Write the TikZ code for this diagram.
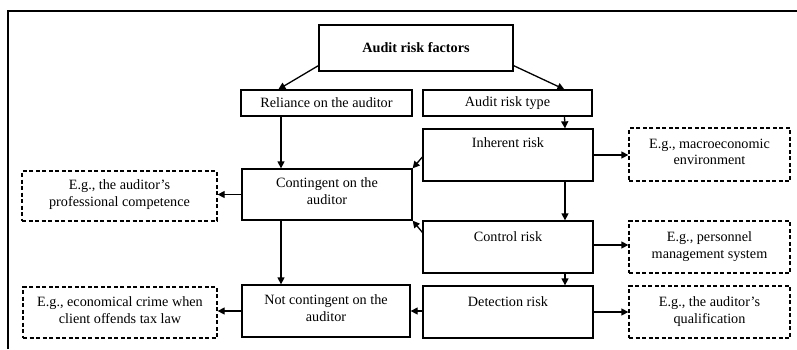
\documentclass[tikz,border=0pt]{standalone}
\usepackage{fontspec}
\setmainfont{Liberation Serif}
\usetikzlibrary{arrows.meta}
\newcommand{\bxt}[4]{\parbox[t][#1][t]{#2}{\centering\vspace*{#3}#4\par}}
\begin{document}
\begin{tikzpicture}[x=1pt,y=-1pt,
  every node/.style={font=\fontsize{14.2}{16.5}\selectfont},
  solidbox/.style={draw,line width=1.3pt,inner sep=0pt,rectangle},
  dbox/.style={draw,line width=1.3pt,inner sep=0pt,rectangle,dash pattern=on 4pt off 2.5pt},
  arr/.style={line width=1.3pt,-{Triangle[length=7pt,width=7pt]}}]
\useasboundingbox (0,0) rectangle (797,349);
\draw[line width=1.3pt] (8,349) -- (8,11) -- (797,11);

\node[solidbox,minimum width=194pt,minimum height=46pt,font=\fontsize{14.2}{16.5}\selectfont\bfseries] (top) at (416,48) {Audit risk factors};
\node[solidbox,minimum width=171pt,minimum height=26pt] (rel) at (326.5,103) {Reliance on the auditor};
\node[solidbox,minimum width=169pt,minimum height=26pt] (art) at (507.5,103) {Audit risk type};

\node[solidbox] (inh) at (508,155) {\bxt{52pt}{170pt}{9pt}{Inherent risk}};
\node[solidbox] (ctl) at (508,247) {\bxt{52pt}{170pt}{11pt}{Control risk}};
\node[solidbox] (det) at (508,312) {\bxt{52pt}{170pt}{11pt}{Detection risk}};

\node[solidbox] (con) at (327,194.5) {\bxt{51pt}{170pt}{9pt}{Contingent on the\\auditor}};
\node[solidbox] (ncon) at (326,311) {\bxt{52pt}{168pt}{10pt}{Not contingent on the\\auditor}};

\node[dbox] (ex1) at (119.5,196) {\bxt{50pt}{195pt}{9pt}{E.g., the auditor's\\professional competence}};
\node[dbox] (ex2) at (120,312.5) {\bxt{51pt}{194pt}{10pt}{E.g., economical crime when\\client offends tax law}};
\node[dbox] (ex3) at (709.5,154.5) {\bxt{53pt}{161pt}{11pt}{E.g., macroeconomic\\environment}};
\node[dbox] (ex4) at (709.5,247) {\bxt{52pt}{161pt}{11pt}{E.g., personnel\\management system}};
\node[dbox] (ex5) at (709.5,312) {\bxt{52pt}{161pt}{11pt}{E.g., the auditor's\\qualification}};

\draw[arr] ([yshift=6pt]top.south west) -- ([xshift=38pt]rel.north west);
\draw[arr] ([yshift=6pt]top.south east) -- ([xshift=142pt]art.north west);
\draw[arr] ([xshift=57pt]art.south) -- ([xshift=57pt]inh.north);
\draw[arr] ([xshift=57pt]inh.south) -- ([xshift=57pt]ctl.north);
\draw[arr] ([xshift=57pt]ctl.south) -- ([xshift=57pt]det.north);
\draw[arr] ([xshift=-45.5pt]rel.south) -- ([xshift=-46pt]con.north);
\draw[arr] ([xshift=-46pt]con.south) -- ([xshift=-45pt]ncon.north);
\draw[arr] ([yshift=-2pt]inh.west) -- (con.north east);
\draw[arr] ([yshift=-12pt]ctl.north west) -- (con.south east);
\draw[arr] (con.west) -- (con.west -| ex1.east);
\draw[arr] (ncon.west) -- (ncon.west -| ex2.east);
\draw[arr] ([yshift=1pt]det.west) -- ([yshift=1pt]det.west -| ncon.east);
\draw[arr] (inh.east) -- (inh.east -| ex3.west);
\draw[arr] ([yshift=2pt]ctl.east) -- ([yshift=2pt]ctl.east -| ex4.west);
\draw[arr] (det.east) -- (det.east -| ex5.west);
\end{tikzpicture}
\end{document}
